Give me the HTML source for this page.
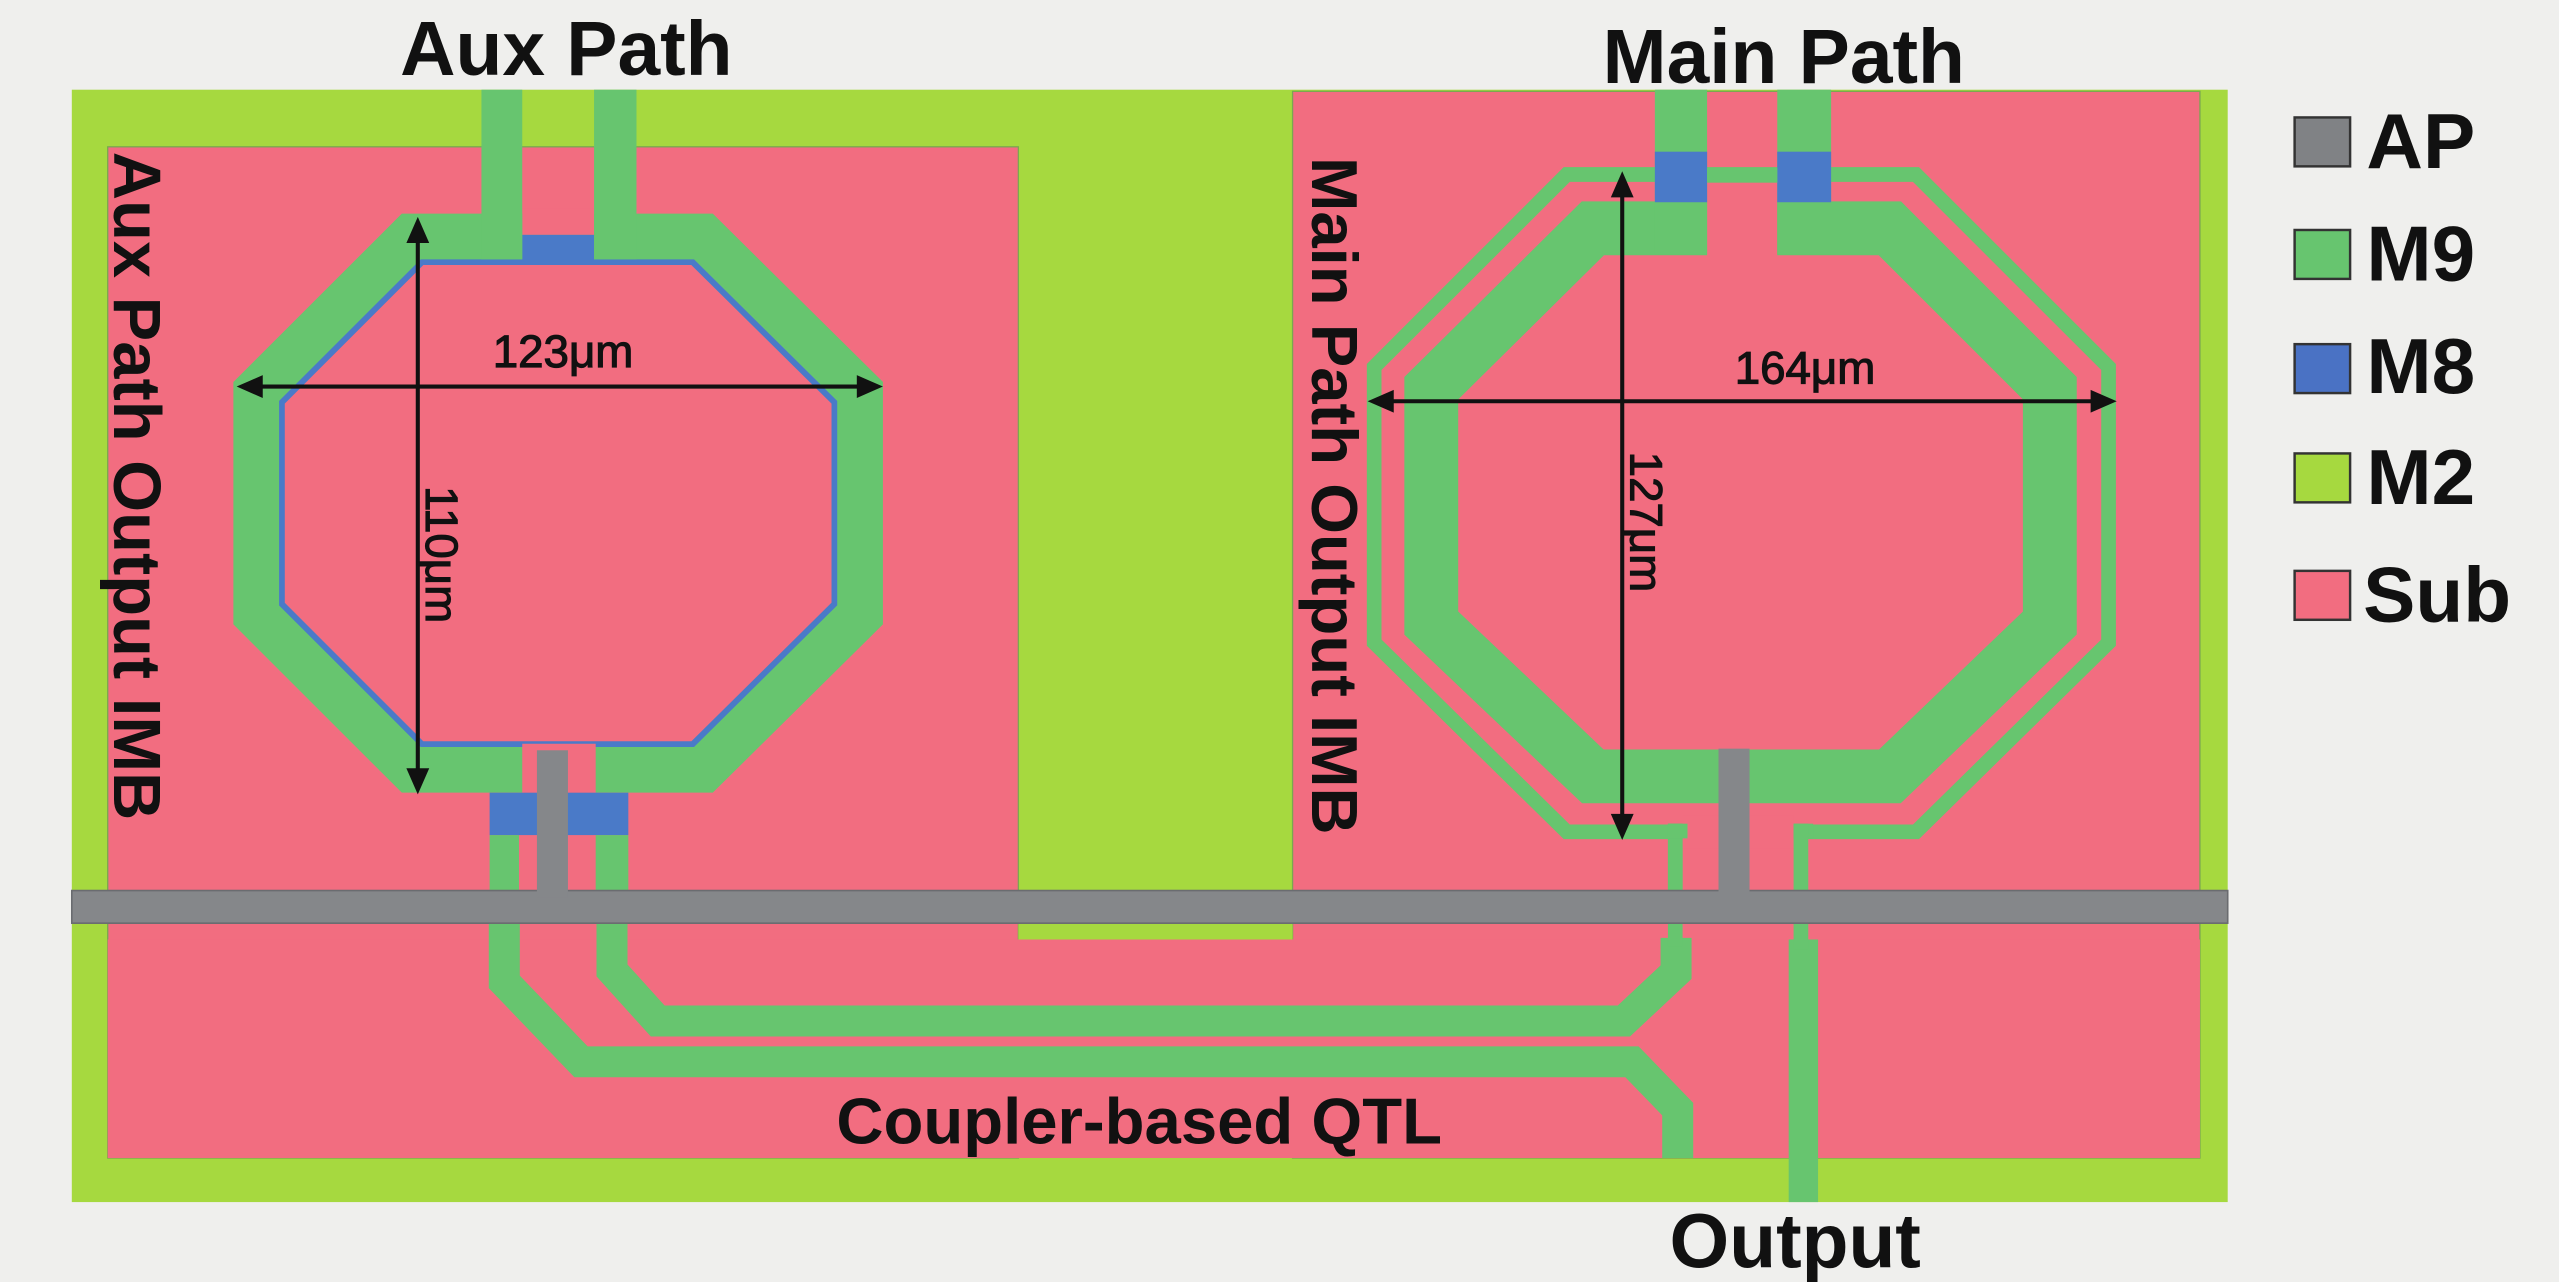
<!DOCTYPE html>
<html><head><meta charset="utf-8"><style>html,body{margin:0;padding:0;background:#efefed;}svg{display:block}</style></head>
<body>
<svg width="2559" height="1282" viewBox="0 0 1568 786" preserveAspectRatio="none" xmlns="http://www.w3.org/2000/svg" font-family="Liberation Sans, Arial, sans-serif" font-weight="bold">
<rect width="1568" height="786" fill="#efefed"/>
<!-- M2 -->
<rect x="44" y="55" width="1321" height="682" fill="#a6d93f"/>
<!-- Sub -->
<g fill="#f26d80" stroke="#7aa850" stroke-width="0.8">
<rect x="66" y="90" width="558" height="620"/>
<rect x="792" y="56" width="556" height="654"/>
<rect x="66" y="576" width="1282" height="134" stroke="none"/>
</g>
<rect x="624" y="566" width="168" height="10" fill="#a6d93f"/>
<!-- ===== Aux inductor ===== -->
<polygon points="253,147 430,147 525,241 525,376 430,470 253,470 159,376 159,241" fill="none" stroke="#4a7ac8" stroke-width="31"/>
<polygon points="252,145 431,145 527,240 527,377 431,472 252,472 157,377 157,240" fill="none" stroke="#67c56f" stroke-width="28" stroke-linejoin="miter"/>
<!-- top gap -->
<rect x="320" y="128" width="44" height="16" fill="#f26d80"/>
<rect x="320" y="144" width="44" height="17" fill="#4a7ac8"/>
<rect x="295" y="55" width="25" height="104" fill="#67c56f"/>
<rect x="364" y="55" width="26" height="104" fill="#67c56f"/>
<!-- bottom gap -->
<rect x="320" y="456" width="45" height="31" fill="#f26d80"/>
<rect x="300" y="486" width="85" height="26" fill="#4a7ac8"/>
<rect x="300" y="512" width="18" height="36" fill="#67c56f"/>
<rect x="365" y="512" width="20" height="36" fill="#67c56f"/>
<!-- QTL traces -->
<path d="M309 566 V602 L356 651 H1000 L1028 680 V710" fill="none" stroke="#67c56f" stroke-width="19" stroke-linejoin="miter"/>
<path d="M375 566 V595 L403 626 H995 L1027 596 V575" fill="none" stroke="#67c56f" stroke-width="19"/>
<rect x="1022" y="505" width="9" height="75" fill="#67c56f"/>
<!-- ===== Main inductor ===== -->
<polygon points="960,107 1174,107 1292,225 1292,394 1174,510 960,510 842,394 842,225" fill="none" stroke="#67c56f" stroke-width="9"/>
<polygon points="976,140 1158,140 1256,238 1256,382 1158,476 976,476 877,382 877,238" fill="none" stroke="#67c56f" stroke-width="33"/>
<!-- bottom thin ring gap -->
<rect x="1031" y="500" width="68" height="20" fill="#f26d80"/>
<rect x="1022" y="505" width="9" height="45" fill="#67c56f"/>
<rect x="1022" y="505" width="12" height="9" fill="#67c56f"/>
<rect x="1099" y="505" width="12" height="9" fill="#67c56f"/>
<rect x="1099" y="505" width="9" height="45" fill="#67c56f"/>
<rect x="1096" y="576" width="18" height="161" fill="#67c56f"/>
<rect x="1099" y="560" width="9" height="22" fill="#67c56f"/>
<!-- top gap -->
<rect x="1046" y="112" width="43" height="46" fill="#f26d80"/>
<rect x="1014" y="55" width="32" height="101" fill="#67c56f"/>
<rect x="1089" y="55" width="33" height="101" fill="#67c56f"/>
<rect x="1014" y="93" width="32" height="31" fill="#4a7ac8"/>
<rect x="1089" y="93" width="33" height="31" fill="#4a7ac8"/>
<rect x="1046" y="103" width="43" height="9" fill="#67c56f"/>
<!-- AP -->
<rect x="44" y="546" width="1321" height="20" fill="#85878a" stroke="#6a6c70" stroke-width="1"/>
<rect x="329" y="460" width="19" height="90" fill="#85878a"/>
<rect x="1053" y="459" width="19" height="90" fill="#85878a"/>
<!-- arrows -->
<g stroke="#111" stroke-width="2.5" fill="#111">
<line x1="156" y1="237" x2="529" y2="237"/>
<polygon points="145,237 161,230 161,244" stroke="none"/>
<polygon points="541,237 525,230 525,244" stroke="none"/>
<line x1="256" y1="145" x2="256" y2="475"/>
<polygon points="256,133 249,149 263,149" stroke="none"/>
<polygon points="256,487 249,471 263,471" stroke="none"/>
<line x1="849" y1="246" x2="1285" y2="246"/>
<polygon points="838,246 854,239 854,253" stroke="none"/>
<polygon points="1297,246 1281,239 1281,253" stroke="none"/>
<line x1="994" y1="117" x2="994" y2="503"/>
<polygon points="994,105 987,121 1001,121" stroke="none"/>
<polygon points="994,515 987,499 1001,499" stroke="none"/>
</g>
<g fill="#111">
<text x="345" y="225" font-size="28" text-anchor="middle" font-weight="normal" stroke="#111" stroke-width="0.7">123μm</text>
<text x="1106" y="235" font-size="28" text-anchor="middle" font-weight="normal" stroke="#111" stroke-width="0.7">164μm</text>
<text transform="translate(261,340) rotate(90)" font-size="28" text-anchor="middle" font-weight="normal" stroke="#111" stroke-width="0.7">110μm</text>
<text transform="translate(999,320) rotate(90)" font-size="28" text-anchor="middle" font-weight="normal" stroke="#111" stroke-width="0.7">127μm</text>
<text x="347" y="46" font-size="47" text-anchor="middle">Aux Path</text>
<text x="1093" y="51" font-size="47" text-anchor="middle">Main Path</text>
<text x="1100" y="777" font-size="47" text-anchor="middle">Output</text>
<text x="698" y="701" font-size="40" text-anchor="middle">Coupler-based QTL</text>
<text transform="translate(70,298) rotate(90)" font-size="41" text-anchor="middle">Aux Path Output IMB</text>
<text transform="translate(804,304) rotate(90)" font-size="40" text-anchor="middle">Main Path Output IMB</text>
</g>
<!-- legend -->
<g stroke="#333" stroke-width="1.5">
<rect x="1406" y="72" width="34" height="30" fill="#808285"/>
<rect x="1406" y="141" width="34" height="30" fill="#67c56f"/>
<rect x="1406" y="211" width="34" height="30" fill="#4a72c4"/>
<rect x="1406" y="278" width="34" height="30" fill="#a6d93f"/>
<rect x="1406" y="350" width="34" height="30" fill="#f26d80"/>
</g>
<g fill="#111" font-size="48">
<text x="1450" y="103">AP</text>
<text x="1450" y="172">M9</text>
<text x="1450" y="241">M8</text>
<text x="1450" y="309">M2</text>
<text x="1448" y="381">Sub</text>
</g>
</svg>
</body></html>
